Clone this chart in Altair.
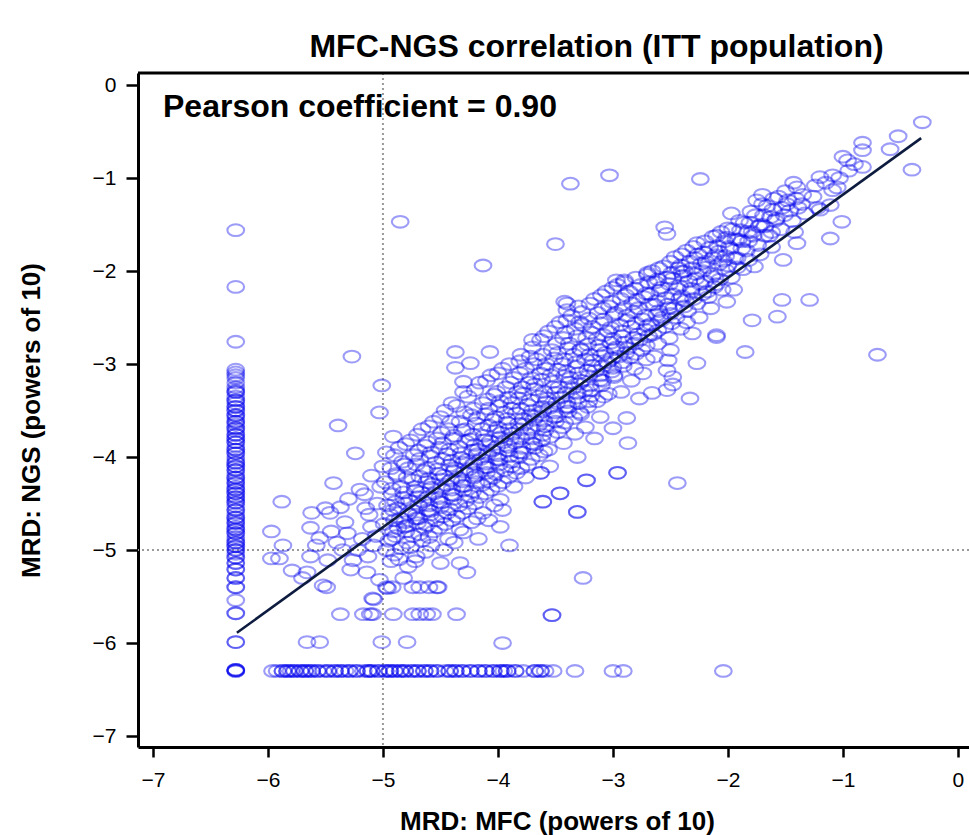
import altair as alt
import pandas as pd

# ---- data (log10 MRD values) ----
# MFC below limit: MFC fixed at -6.28, NGS values
mfc_lod = -6.28
ngs_when_mfc_lod = [-1.56, -2.17, -2.76, -3.06, -3.09, -3.12, -3.15, -3.20, -3.25, -3.28,
                    -3.30, -3.35, -3.39, -3.42, -3.46, -3.50, -3.55, -3.58, -3.62, -3.65,
                    -3.69, -3.72, -3.76, -3.80, -3.84, -3.88, -3.92, -3.96, -4.00, -4.03,
                    -4.06, -4.10, -4.14, -4.18, -4.22, -4.25, -4.28, -4.32, -4.35, -4.39,
                    -4.43, -4.46, -4.49, -4.53, -4.57, -4.61, -4.65, -4.68, -4.71, -4.75,
                    -4.78, -4.82, -4.86, -4.89, -4.92, -4.96, -5.00, -5.04, -5.08, -5.14,
                    -5.21, -5.30, -5.40, -5.54, -5.68, -5.99, -6.29,
                    -3.30, -3.46, -3.62, -3.76, -3.92, -4.06, -4.22, -4.35, -4.49, -4.65,
                    -4.78, -4.92, -3.55, -3.84, -4.14, -4.43, -4.71, -5.00, -5.08, -5.14,
                    -3.39, -3.50, -3.69, -3.80, -3.96, -4.10, -4.28, -4.39, -4.57, -4.82,
                    -4.96, -5.21, -5.30, -5.40, -5.68, -5.99, -6.29, -6.29]

# NGS below limit: NGS fixed at -6.30, MFC values
ngs_lod = -6.30
mfc_when_ngs_lod = [-6.28, -5.96, -5.92, -5.87, -5.83, -5.80, -5.77, -5.72, -5.68, -5.65,
                    -5.62, -5.57, -5.52, -5.48, -5.42, -5.37, -5.33, -5.29, -5.23, -5.17,
                    -5.13, -5.10, -5.04, -4.98, -4.94, -4.90, -4.85, -4.81, -4.75, -4.70,
                    -4.64, -4.59, -4.53, -4.46, -4.42, -4.37, -4.31, -4.24, -4.17, -4.11,
                    -4.04, -3.98, -3.95, -3.92, -3.85, -3.78, -3.68, -3.63, -3.59, -3.52,
                    -3.33, -3.00, -2.91, -2.04,
                    -5.83, -5.77, -5.68, -5.57, -5.42, -5.29, -5.10, -4.98, -4.90, -4.81,
                    -4.70, -4.59, -4.42, -4.31, -4.17, -4.04, -3.98, -3.63,
                    -5.87, -5.72, -5.62, -5.48, -5.37, -5.23, -5.13, -5.04, -4.94, -4.85,
                    -4.75, -4.64, -4.53, -4.37, -4.24, -4.11, -3.92, -3.85, -3.68, -6.28]

# quantified pairs (MFC, NGS) at low levels
low_points = [(-5.66, -5.99), (-5.55, -5.99), (-5.01, -5.99), (-4.79, -5.99), (-3.96, -6.00),
              (-5.37, -5.69), (-5.17, -5.69), (-5.11, -5.69), (-5.09, -5.69), (-4.91, -5.69),
              (-4.74, -5.69), (-4.68, -5.69), (-4.62, -5.69), (-4.57, -5.69), (-4.36, -5.69),
              (-3.53, -5.70), (-5.09, -5.52), (-5.08, -5.53), (-4.97, -5.40), (-4.92, -5.40),
              (-4.68, -5.40), (-4.52, -5.40)]

left_points = [(-5.88, -4.48), (-5.97, -4.80), (-5.63, -4.76), (-5.87, -4.95), (-5.97, -5.09),
               (-5.90, -5.09), (-5.79, -5.22), (-5.66, -5.24), (-5.48, -5.11), (-5.70, -5.30),
               (-5.52, -5.38), (-5.50, -4.55), (-5.46, -4.60), (-5.55, -4.87), (-5.40, -4.92),
               (-5.31, -4.82), (-5.26, -5.11), (-5.28, -5.21), (-5.13, -5.07), (-5.14, -5.24),
               (-5.03, -5.32), (-5.43, -4.28), (-5.24, -3.96), (-5.39, -3.66), (-5.03, -3.52),
               (-5.01, -3.23), (-4.91, -3.78), (-5.27, -2.92), (-5.33, -4.70), (-5.37, -4.54),
               (-5.63, -5.07), (-5.49, -5.40), (-5.58, -4.95), (-5.15, -4.55), (-5.20, -4.35),
               (-5.10, -4.75), (-5.05, -4.50), (-5.10, -4.20), (-5.00, -4.10), (-5.18, -4.88),
               (-5.30, -4.45), (-5.08, -4.95), (-5.22, -5.00), (-5.35, -5.00), (-5.45, -4.80),
               (-5.62, -4.60), (-5.12, -4.62), (-5.06, -4.85), (-5.02, -4.32), (-5.16, -4.40)]

core_points = [
    (-4.97, -3.95), (-4.93, -4.12), (-4.98, -4.27), (-4.92, -4.40), (-4.96, -4.52), (-4.94, -4.62),
    (-4.99, -4.72), (-4.91, -4.80), (-4.95, -4.90), (-4.97, -5.00), (-4.93, -5.12), (-4.96, -5.41),
    (-4.86, -3.90), (-4.83, -4.05), (-4.88, -4.20), (-4.84, -4.32), (-4.82, -4.44), (-4.87, -4.55),
    (-4.85, -4.66), (-4.81, -4.75), (-4.89, -4.85), (-4.84, -4.98), (-4.86, -5.10), (-4.78, -5.18),
    (-4.82, -5.30),
    (-4.76, -3.82), (-4.73, -3.98), (-4.78, -4.12), (-4.74, -4.25), (-4.72, -4.36), (-4.77, -4.47),
    (-4.75, -4.57), (-4.71, -4.66), (-4.79, -4.74), (-4.74, -4.85), (-4.76, -4.97), (-4.74, -5.40),
    (-4.72, -5.12),
    (-4.66, -3.70), (-4.63, -3.88), (-4.68, -4.02), (-4.64, -4.15), (-4.62, -4.27), (-4.67, -4.38),
    (-4.65, -4.48), (-4.61, -4.57), (-4.69, -4.66), (-4.64, -4.76), (-4.66, -4.90), (-4.63, -5.02),
    (-4.60, -5.40),
    (-4.56, -3.62), (-4.53, -3.80), (-4.58, -3.95), (-4.54, -4.06), (-4.52, -4.18), (-4.57, -4.29),
    (-4.55, -4.39), (-4.51, -4.48), (-4.59, -4.58), (-4.54, -4.68), (-4.56, -4.80), (-4.50, -5.14),
    (-4.53, -5.40), (-4.58, -4.95),
    (-4.46, -3.50), (-4.43, -3.70), (-4.48, -3.85), (-4.44, -3.97), (-4.42, -4.09), (-4.47, -4.20),
    (-4.45, -4.30), (-4.41, -4.40), (-4.49, -4.49), (-4.44, -4.60), (-4.46, -4.72), (-4.43, -4.88),
    (-4.47, -5.00),
    (-4.37, -2.87), (-4.37, -3.04), (-4.30, -3.19), (-4.36, -3.45), (-4.33, -3.62), (-4.38, -3.77),
    (-4.34, -3.89), (-4.32, -4.01), (-4.37, -4.12), (-4.35, -4.22), (-4.31, -4.31), (-4.39, -4.41),
    (-4.34, -4.52), (-4.36, -4.64), (-4.33, -4.78), (-4.33, -5.14), (-4.30, -4.81),
    (-4.24, -2.99), (-4.26, -3.35), (-4.23, -3.55), (-4.28, -3.70), (-4.24, -3.81), (-4.22, -3.93),
    (-4.27, -4.03), (-4.25, -4.13), (-4.21, -4.22), (-4.29, -4.31), (-4.24, -4.42), (-4.26, -4.55),
    (-4.27, -5.24), (-4.23, -4.70),
    (-4.16, -3.20), (-4.13, -3.42), (-4.18, -3.58), (-4.14, -3.70), (-4.12, -3.82), (-4.17, -3.92),
    (-4.15, -4.02), (-4.11, -4.11), (-4.19, -4.20), (-4.14, -4.30), (-4.16, -4.43), (-4.13, -4.60),
    (-4.17, -4.88),
    (-4.07, -2.87), (-4.06, -3.12), (-4.03, -3.33), (-4.08, -3.48), (-4.04, -3.60), (-4.02, -3.72),
    (-4.07, -3.83), (-4.05, -3.93), (-4.01, -4.02), (-4.09, -4.11), (-4.04, -4.22), (-4.06, -4.35),
    (-4.03, -4.52), (-4.08, -4.68),
    (-3.96, -3.05), (-3.93, -3.25), (-3.98, -3.40), (-3.94, -3.52), (-3.92, -3.63), (-3.97, -3.74),
    (-3.95, -3.84), (-3.91, -3.93), (-3.99, -4.03), (-3.94, -4.14), (-3.96, -4.27), (-3.96, -4.57),
    (-3.98, -4.75), (-3.90, -4.95),
    (-3.81, -2.97), (-3.86, -3.15), (-3.83, -3.30), (-3.88, -3.42), (-3.84, -3.53), (-3.82, -3.64),
    (-3.87, -3.75), (-3.85, -3.85), (-3.81, -3.95), (-3.89, -4.05), (-3.84, -4.17), (-3.86, -4.32),
    (-3.72, -2.92), (-3.76, -3.05), (-3.73, -3.20), (-3.78, -3.32), (-3.74, -3.44), (-3.72, -3.55),
    (-3.77, -3.65), (-3.75, -3.75), (-3.71, -3.85), (-3.79, -3.95), (-3.74, -4.08), (-3.76, -4.22),
    (-3.70, -2.74),
    (-3.63, -2.74), (-3.66, -2.95), (-3.63, -3.10), (-3.68, -3.22), (-3.64, -3.35), (-3.62, -3.46),
    (-3.67, -3.56), (-3.65, -3.66), (-3.61, -3.76), (-3.69, -3.86), (-3.64, -3.98), (-3.63, -4.17),
    (-3.61, -4.48),
    (-3.56, -2.65), (-3.53, -2.85), (-3.58, -3.00), (-3.54, -3.12), (-3.52, -3.25), (-3.57, -3.37),
    (-3.55, -3.47), (-3.51, -3.57), (-3.59, -3.67), (-3.54, -3.78), (-3.56, -3.92), (-3.55, -4.10),
    (-3.46, -2.55), (-3.43, -2.72), (-3.48, -2.88), (-3.44, -3.00), (-3.42, -3.13), (-3.47, -3.25),
    (-3.45, -3.36), (-3.41, -3.46), (-3.49, -3.56), (-3.44, -3.68), (-3.46, -4.39), (-3.43, -3.85),
    (-3.42, -2.33), (-3.40, -2.35), (-3.40, -2.53),
    (-3.36, -2.48), (-3.33, -2.62), (-3.38, -2.78), (-3.34, -2.90), (-3.32, -3.03), (-3.37, -3.15),
    (-3.35, -3.26), (-3.31, -3.36), (-3.39, -3.46), (-3.34, -3.58), (-3.31, -4.00), (-3.31, -4.59),
    (-3.33, -3.75),
    (-3.27, -2.44), (-3.26, -2.58), (-3.23, -2.72), (-3.28, -2.84), (-3.24, -2.95), (-3.22, -3.07),
    (-3.27, -3.18), (-3.25, -3.29), (-3.21, -3.40), (-3.29, -3.52), (-3.23, -4.25), (-3.26, -5.30),
    (-3.24, -3.68),
    (-3.16, -2.30), (-3.13, -2.45), (-3.18, -2.60), (-3.14, -2.73), (-3.12, -2.85), (-3.17, -2.96),
    (-3.15, -3.07), (-3.11, -3.17), (-3.19, -3.28), (-3.14, -3.40), (-3.11, -3.57), (-3.16, -3.80),
    (-3.06, -2.22), (-3.03, -2.38), (-3.08, -2.52), (-3.04, -2.65), (-3.02, -2.77), (-3.07, -2.88),
    (-3.05, -2.98), (-3.01, -3.08), (-3.09, -3.18), (-3.04, -3.32), (-3.00, -3.69), (-2.97, -2.10),
]

core_points_b = [
    (-4.90, -3.98), (-4.88, -4.18), (-4.92, -4.34), (-4.89, -4.48), (-4.91, -4.57), (-4.90, -4.68),
    (-4.87, -4.76), (-4.92, -4.88), (-4.90, -5.05),
    (-4.80, -3.86), (-4.81, -4.08), (-4.79, -4.22), (-4.82, -4.38), (-4.80, -4.50), (-4.78, -4.61),
    (-4.81, -4.70), (-4.80, -4.80), (-4.79, -4.92),
    (-4.70, -3.76), (-4.69, -3.93), (-4.71, -4.08), (-4.68, -4.21), (-4.72, -4.32), (-4.70, -4.43),
    (-4.69, -4.52), (-4.71, -4.62), (-4.70, -4.71), (-4.68, -4.83), (-4.71, -5.07),
    (-4.60, -3.67), (-4.61, -3.84), (-4.59, -3.99), (-4.62, -4.12), (-4.60, -4.23), (-4.58, -4.33),
    (-4.61, -4.43), (-4.60, -4.52), (-4.59, -4.62), (-4.62, -4.73), (-4.60, -4.86),
    (-4.50, -3.57), (-4.49, -3.74), (-4.51, -3.90), (-4.48, -4.02), (-4.52, -4.13), (-4.50, -4.24),
    (-4.49, -4.34), (-4.51, -4.44), (-4.50, -4.54), (-4.48, -4.64), (-4.51, -4.76),
    (-4.40, -3.42), (-4.41, -3.62), (-4.39, -3.80), (-4.42, -3.92), (-4.40, -4.04), (-4.38, -4.15),
    (-4.41, -4.25), (-4.40, -4.35), (-4.39, -4.45), (-4.42, -4.56), (-4.40, -4.68), (-4.38, -4.92),
    (-4.30, -3.30), (-4.29, -3.52), (-4.31, -3.71), (-4.28, -3.83), (-4.32, -3.96), (-4.30, -4.06),
    (-4.29, -4.16), (-4.31, -4.26), (-4.30, -4.36), (-4.28, -4.47), (-4.31, -4.60),
    (-4.20, -3.28), (-4.21, -3.48), (-4.19, -3.64), (-4.22, -3.76), (-4.20, -3.87), (-4.18, -3.97),
    (-4.21, -4.07), (-4.20, -4.17), (-4.19, -4.27), (-4.22, -4.37), (-4.20, -4.50), (-4.18, -4.66),
    (-4.10, -3.18), (-4.09, -3.38), (-4.11, -3.54), (-4.08, -3.66), (-4.12, -3.77), (-4.10, -3.87),
    (-4.09, -3.97), (-4.11, -4.07), (-4.10, -4.17), (-4.08, -4.26), (-4.11, -4.39),
    (-4.00, -3.10), (-4.01, -3.30), (-3.99, -3.45), (-4.02, -3.57), (-4.00, -3.68), (-3.98, -3.79),
    (-4.01, -3.89), (-4.00, -3.98), (-3.99, -4.08), (-4.02, -4.18), (-4.00, -4.31), (-3.98, -4.46),
    (-3.90, -3.00), (-3.89, -3.20), (-3.91, -3.36), (-3.88, -3.48), (-3.92, -3.59), (-3.90, -3.70),
    (-3.89, -3.80), (-3.91, -3.89), (-3.90, -3.99), (-3.88, -4.10), (-3.91, -4.22),
    (-3.80, -2.90), (-3.81, -3.10), (-3.79, -3.25), (-3.82, -3.37), (-3.80, -3.48), (-3.78, -3.59),
    (-3.81, -3.70), (-3.80, -3.80), (-3.79, -3.90), (-3.82, -4.00), (-3.80, -4.12),
    (-3.70, -2.82), (-3.69, -3.00), (-3.71, -3.15), (-3.68, -3.27), (-3.72, -3.39), (-3.70, -3.50),
    (-3.69, -3.60), (-3.71, -3.70), (-3.70, -3.80), (-3.68, -3.90), (-3.71, -4.02),
    (-3.60, -2.70), (-3.61, -2.90), (-3.59, -3.05), (-3.62, -3.17), (-3.60, -3.30), (-3.58, -3.41),
    (-3.61, -3.51), (-3.60, -3.61), (-3.59, -3.71), (-3.62, -3.82), (-3.60, -3.94),
    (-3.50, -2.60), (-3.49, -2.78), (-3.51, -2.94), (-3.48, -3.06), (-3.52, -3.19), (-3.50, -3.31),
    (-3.49, -3.42), (-3.51, -3.52), (-3.50, -3.62), (-3.48, -3.73),
    (-3.40, -2.42), (-3.41, -2.66), (-3.39, -2.83), (-3.42, -2.95), (-3.40, -3.08), (-3.38, -3.20),
    (-3.41, -3.31), (-3.40, -3.41), (-3.39, -3.51), (-3.42, -3.63),
    (-3.30, -2.38), (-3.29, -2.55), (-3.31, -2.70), (-3.28, -2.85), (-3.32, -2.98), (-3.30, -3.10),
    (-3.29, -3.21), (-3.31, -3.31), (-3.30, -3.42), (-3.28, -3.54),
    (-3.20, -2.35), (-3.21, -2.51), (-3.19, -2.66), (-3.22, -2.79), (-3.20, -2.90), (-3.18, -3.02),
    (-3.21, -3.13), (-3.20, -3.23), (-3.19, -3.34), (-3.22, -3.46),
    (-3.10, -2.26), (-3.09, -2.40), (-3.11, -2.56), (-3.08, -2.69), (-3.12, -2.80), (-3.10, -2.91),
    (-3.09, -3.02), (-3.11, -3.12), (-3.10, -3.23), (-3.08, -3.35),
    (-3.00, -2.18), (-3.01, -2.33), (-2.99, -2.47), (-3.02, -2.61), (-3.00, -2.73), (-2.98, -2.84),
    (-3.01, -2.94), (-3.00, -3.04), (-2.99, -3.14),
]

upper_points = [
    (-2.96, -2.15), (-2.93, -2.30), (-2.98, -2.45), (-2.94, -2.58), (-2.92, -2.70), (-2.97, -2.82),
    (-2.95, -2.92), (-2.91, -3.02), (-2.99, -3.12), (-2.96, -4.17), (-2.93, -3.30),
    (-2.90, -2.10), (-2.86, -2.22), (-2.83, -2.35), (-2.88, -2.48), (-2.84, -2.60), (-2.82, -2.72),
    (-2.87, -2.83), (-2.85, -2.93), (-2.81, -3.05), (-2.87, -3.85), (-2.88, -3.58), (-2.84, -3.18),
    (-2.70, -2.04), (-2.76, -2.15), (-2.73, -2.28), (-2.78, -2.40), (-2.74, -2.52), (-2.72, -2.63),
    (-2.77, -2.74), (-2.75, -2.85), (-2.71, -2.95), (-2.77, -3.37), (-2.74, -3.10),
    (-2.66, -2.00), (-2.63, -2.12), (-2.68, -2.25), (-2.64, -2.36), (-2.62, -2.47), (-2.67, -2.57),
    (-2.65, -2.68), (-2.61, -2.78), (-2.66, -3.31), (-2.64, -2.92),
    (-2.55, -1.53), (-2.53, -1.60), (-2.56, -1.95), (-2.53, -2.07), (-2.58, -2.18), (-2.54, -2.29),
    (-2.52, -2.40), (-2.57, -2.50), (-2.55, -2.60), (-2.51, -2.72), (-2.53, -3.28), (-2.53, -3.07),
    (-2.52, -2.96), (-2.50, -2.85), (-2.48, -3.14), (-2.48, -3.22),
    (-2.46, -1.85), (-2.43, -1.97), (-2.48, -2.08), (-2.44, -2.19), (-2.42, -2.30), (-2.47, -2.40),
    (-2.45, -2.50), (-2.41, -2.62), (-2.40, -2.01),
    (-2.36, -1.78), (-2.33, -1.90), (-2.38, -2.00), (-2.34, -2.11), (-2.32, -2.22), (-2.37, -2.32),
    (-2.35, -2.43), (-2.31, -2.67), (-2.33, -3.37), (-2.36, -2.55),
    (-2.27, -1.70), (-2.26, -1.82), (-2.23, -1.92), (-2.28, -2.03), (-2.24, -2.14), (-2.22, -2.25),
    (-2.27, -2.35), (-2.27, -2.99), (-2.25, -2.50),
    (-2.13, -1.63), (-2.16, -1.75), (-2.13, -1.86), (-2.18, -1.96), (-2.14, -2.06), (-2.12, -2.17),
    (-2.17, -2.28), (-2.10, -2.69), (-2.10, -2.71), (-2.15, -2.40),
    (-2.06, -1.58), (-2.03, -1.68), (-2.08, -1.79), (-2.04, -1.89), (-2.02, -1.99), (-2.07, -2.09),
    (-2.05, -2.20), (-2.01, -2.33),
    (-1.97, -1.38), (-1.96, -1.55), (-1.93, -1.66), (-1.98, -1.76), (-1.94, -1.86), (-1.92, -1.96),
    (-1.97, -2.07), (-1.95, -2.20),
    (-1.86, -1.48), (-1.83, -1.58), (-1.88, -1.68), (-1.84, -1.78), (-1.82, -1.88), (-1.87, -1.98),
    (-1.85, -2.87), (-1.79, -2.53),
    (-1.75, -1.24), (-1.70, -1.18), (-1.76, -1.40), (-1.73, -1.52), (-1.78, -1.62), (-1.74, -1.72),
    (-1.72, -1.82), (-1.77, -1.95),
    (-1.66, -1.30), (-1.63, -1.42), (-1.68, -1.52), (-1.64, -1.62), (-1.62, -1.74), (-1.57, -2.49),
    (-1.56, -1.20), (-1.53, -1.32), (-1.58, -1.44), (-1.54, -1.55), (-1.52, -1.88), (-1.53, -2.31),
    (-1.48, -1.24), (-1.43, -1.05), (-1.46, -1.35), (-1.44, -1.46), (-1.40, -1.70), (-1.42, -1.58),
    (-1.35, -1.18), (-1.36, -1.28), (-1.33, -1.38), (-1.29, -2.31),
    (-1.26, -1.20), (-1.24, -1.08), (-1.22, -1.32),
    (-1.20, -0.99), (-1.20, -1.34), (-1.11, -1.29), (-1.09, -1.13), (-1.11, -1.65), (-1.09, -0.97),
    (-1.15, -1.05),
    (-1.03, -1.00), (-1.05, -1.10), (-1.01, -1.47), (-1.00, -0.77), (-0.96, -0.81),
    (-0.83, -0.62), (-0.83, -0.70), (-0.83, -0.88), (-0.90, -0.85), (-0.95, -0.92),
    (-0.59, -0.69), (-0.52, -0.55), (-0.40, -0.91), (-0.31, -0.40),
]

upper_points_b = [
    (-2.90, -2.12), (-2.89, -2.26), (-2.91, -2.40), (-2.88, -2.53), (-2.92, -2.65), (-2.90, -2.77),
    (-2.89, -2.88), (-2.91, -2.98),
    (-2.80, -2.07), (-2.81, -2.19), (-2.79, -2.31), (-2.82, -2.44), (-2.80, -2.56), (-2.78, -2.68),
    (-2.81, -2.78), (-2.80, -2.89),
    (-2.70, -2.02), (-2.69, -2.12), (-2.71, -2.24), (-2.68, -2.36), (-2.72, -2.48), (-2.70, -2.59),
    (-2.69, -2.70), (-2.71, -2.80),
    (-2.60, -1.97), (-2.61, -2.09), (-2.59, -2.21), (-2.62, -2.32), (-2.60, -2.43), (-2.58, -2.53),
    (-2.61, -2.64),
    (-2.50, -1.90), (-2.49, -2.02), (-2.51, -2.14), (-2.48, -2.25), (-2.52, -2.36), (-2.50, -2.46),
    (-2.49, -2.56),
    (-2.40, -1.82), (-2.41, -1.94), (-2.39, -2.05), (-2.42, -2.16), (-2.40, -2.27), (-2.38, -2.38),
    (-2.30, -1.74), (-2.29, -1.86), (-2.31, -1.97), (-2.28, -2.08), (-2.32, -2.19), (-2.30, -2.30),
    (-2.20, -1.68), (-2.21, -1.80), (-2.19, -1.90), (-2.22, -2.00), (-2.20, -2.11), (-2.18, -2.22),
    (-2.10, -1.62), (-2.09, -1.73), (-2.11, -1.83), (-2.08, -1.93), (-2.12, -2.03), (-2.10, -2.14),
    (-2.00, -1.54), (-2.01, -1.64), (-1.99, -1.74), (-2.02, -1.84), (-2.00, -1.94),
    (-1.90, -1.46), (-1.89, -1.56), (-1.91, -1.66), (-1.88, -1.76), (-1.92, -1.86),
    (-1.80, -1.36), (-1.81, -1.48), (-1.79, -1.58), (-1.82, -1.68),
    (-1.70, -1.28), (-1.69, -1.40), (-1.71, -1.50), (-1.68, -1.62),
    (-1.60, -1.22), (-1.61, -1.34), (-1.59, -1.46), (-1.62, -1.58),
    (-1.50, -1.14), (-1.49, -1.28), (-1.51, -1.40),
    (-1.40, -1.10), (-1.41, -1.22), (-1.39, -1.32),
]

outlier_points = [(-4.85, -1.47), (-4.13, -1.94), (-3.50, -1.71), (-3.37, -1.06), (-3.03, -0.97),
                  (-2.24, -1.01), (-0.70, -2.90), (-2.44, -4.28), (-2.96, -4.17), (-3.23, -4.25),
                  (-3.31, -4.59), (-3.46, -4.39), (-3.61, -4.48), (-3.63, -4.17), (-3.53, -5.70)]

# fitted regression line end points
line_mfc = [-6.27, -0.32]
line_ngs = [-5.89, -0.57]

ref_level = [-5.0]
x_ticks = [-7, -6, -5, -4, -3, -2, -1, 0]
y_ticks = [0, -1, -2, -3, -4, -5, -6, -7]
pearson_label = "Pearson coefficient = 0.90"

# ---- table ----
rows = [(mfc_lod, v) for v in ngs_when_mfc_lod]
rows += [(v, ngs_lod) for v in mfc_when_ngs_lod]
rows += low_points + left_points + core_points + core_points_b + upper_points + upper_points_b
rows += outlier_points
df = pd.DataFrame(rows, columns=["mfc", "ngs"])
line_df = pd.DataFrame({"mfc": line_mfc, "ngs": line_ngs})
ref_df = pd.DataFrame({"mfc": ref_level, "ngs": ref_level})

W, H = 831, 674
xs = alt.Scale(domain=[-7.13, 0.096], nice=False, zero=False)
ys = alt.Scale(domain=[-7.118, 0.13], nice=False, zero=False)

x_axis = alt.Axis(values=x_ticks, title="MRD: MFC (powers of 10)", titleX=419, titleY=82,
                  titleAlign="center", titleBaseline="alphabetic", labelPadding=12, tickSize=10)
y_axis = alt.Axis(values=y_ticks, title="MRD: NGS (powers of 10)", titleX=-107, titleY=347,
                  titleAngle=-90, titleAlign="center", titleBaseline="middle",
                  labelPadding=10, tickSize=12)

ellipse = ("M -1 0 C -1 -0.3866 -0.5523 -0.7 0 -0.7 C 0.5523 -0.7 1 -0.3866 1 0 "
           "C 1 0.3866 0.5523 0.7 0 0.7 C -0.5523 0.7 -1 0.3866 -1 0 Z")

vref = alt.Chart(ref_df).mark_rule(color="#9a9a9a", strokeWidth=2, strokeDash=[2, 3]).encode(
    x=alt.X("mfc:Q", scale=xs, axis=x_axis))
href = alt.Chart(ref_df).mark_rule(color="#9a9a9a", strokeWidth=2, strokeDash=[2, 3]).encode(
    y=alt.Y("ngs:Q", scale=ys, axis=y_axis))

pts = alt.Chart(df).mark_point(shape=ellipse, filled=False, size=280, stroke="#0000ee",
                               strokeWidth=2.1, strokeOpacity=0.55).encode(
    x=alt.X("mfc:Q", scale=xs, axis=x_axis),
    y=alt.Y("ngs:Q", scale=ys, axis=y_axis),
)

fit = alt.Chart(line_df).mark_line(color="#0d1b3e", strokeWidth=2.6).encode(
    x=alt.X("mfc:Q", scale=xs, axis=x_axis), y=alt.Y("ngs:Q", scale=ys, axis=y_axis))

note = alt.Chart(pd.DataFrame({"t": [pearson_label]})).mark_text(
    align="left", baseline="alphabetic", font="Liberation Sans", fontSize=32, fontWeight="bold",
    color="black").encode(x=alt.value(25), y=alt.value(44), text="t:N")

top_border = alt.Chart(pd.DataFrame({"a": [0]})).mark_rule(color="black", strokeWidth=3).encode(
    x=alt.value(0), x2=alt.value(W), y=alt.value(0))

chart = alt.layer(vref, href, pts, fit, note, top_border).properties(
    width=W, height=H,
    title=alt.TitleParams("MFC-NGS correlation (ITT population)",
                          font="Liberation Sans",
                          fontSize=32, fontWeight="bold", anchor="middle", dx=43, offset=8,
                          color="black"),
    autosize=alt.AutoSizeParams(type="none"),
    padding={"left": 138, "top": 73, "right": 0, "bottom": 88},
).configure_view(stroke=None).configure_axis(
    grid=False, domainColor="black", domainWidth=3, tickColor="black", tickWidth=2.5,
    labelFont="Liberation Sans", labelFontSize=21, labelColor="black",
    titleFont="Liberation Sans", titleFontSize=26, titleFontWeight="bold", titleColor="black",
)

chart.save("out.html", embed_options={"renderer": "svg", "actions": False})
